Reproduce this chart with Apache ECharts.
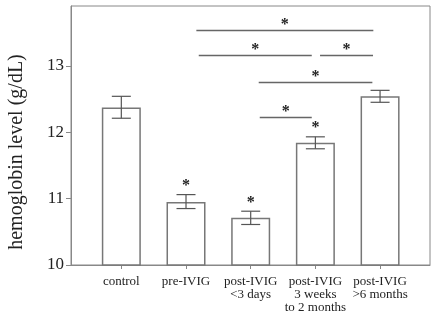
<!DOCTYPE html>
<html><head><meta charset="utf-8">
<script src="https://cdn.jsdelivr.net/npm/echarts@6/dist/echarts.min.js"></script>
<style>html,body{margin:0;padding:0;background:#fff}#c{width:436px;height:321px}</style>
</head><body><div id="c"></div>
<script>
// categories and values
const categories = ['control', 'pre-IVIG', 'post-IVIG\n<3 days', 'post-IVIG\n3 weeks\nto 2 months', 'post-IVIG\n>6 months'];
const means = [12.37, 10.95, 10.71, 11.84, 12.54];
const errLow = [12.21, 10.85, 10.61, 11.75, 12.45];
const errHigh = [12.54, 11.06, 10.81, 11.93, 12.63];
const starOnBar = [false, true, true, true, false];
const yTicks = [10, 11, 12, 13];
// significance brackets: [from (category units), to (category units), level (g/dL)]
const sigStart = [2.16, 2.197, 4.072, 3.124, 3.14];
const sigEnd = [4.896, 3.944, 4.891, 4.881, 3.944];
const sigLevel = [13.54, 13.16, 13.16, 12.76, 12.23];

const catPos = categories.map((_, i) => i + 1);
const FONT = '"Liberation Serif", "Times New Roman", serif';
const LINE = '#666';

const chart = echarts.init(document.getElementById('c'), null, {renderer: 'canvas'});
chart.setOption({
  animation: false,
  backgroundColor: '#fff',
  grid: {left: 71, right: 6, top: 6, bottom: 56, show: true, borderColor: '#888', borderWidth: 1, backgroundColor: 'transparent'},
  xAxis: {
    type: 'value', min: 0.222, max: 5.772,
    axisLine: {show: true, lineStyle: {color: '#888', width: 1}},
    axisTick: {show: true, customValues: catPos, length: 4, lineStyle: {color: '#888'}},
    axisLabel: {show: true, customValues: catPos, formatter: v => categories[Math.round(v) - 1] || '',
      color: '#222', fontFamily: FONT, fontSize: 13, lineHeight: 13, margin: 10},
    splitLine: {show: false}
  },
  yAxis: {
    type: 'value', min: 10, max: 13.9,
    axisLine: {show: true, lineStyle: {color: '#888', width: 1}},
    axisTick: {show: true, customValues: yTicks, length: 5, lineStyle: {color: '#888'}},
    axisLabel: {show: true, customValues: yTicks, color: '#222', fontFamily: FONT, fontSize: 17, margin: 7},
    splitLine: {show: false}
  },
  graphic: [{
    type: 'text', x: 17, y: 152, rotation: Math.PI / 2,
    style: {text: 'hemoglobin level (g/dL)', font: '20px ' + FONT, fill: '#222', align: 'center', verticalAlign: 'middle'}
  }],
  series: [
    {
      type: 'bar', barWidth: 39,
      data: means.map((m, i) => [catPos[i], m]),
      itemStyle: {color: '#fff', borderColor: '#777', borderWidth: 1.5},
      z: 2
    },
    {
      type: 'custom', z: 3,
      data: means.map((m, i) => [catPos[i], errLow[i], errHigh[i], starOnBar[i] ? 1 : 0]),
      renderItem: function (params, api) {
        const lo = api.coord([api.value(0), api.value(1)]);
        const hi = api.coord([api.value(0), api.value(2)]);
        const w = 9.5;
        const st = {stroke: '#555', lineWidth: 1.2};
        const children = [
          {type: 'line', shape: {x1: hi[0], y1: hi[1], x2: lo[0], y2: lo[1]}, style: st},
          {type: 'line', shape: {x1: hi[0] - w, y1: hi[1], x2: hi[0] + w, y2: hi[1]}, style: st},
          {type: 'line', shape: {x1: lo[0] - w, y1: lo[1], x2: lo[0] + w, y2: lo[1]}, style: st}
        ];
        if (api.value(3)) {
          children.push({type: 'text', style: {text: '*', x: hi[0], y: hi[1] - 8.5, align: 'center', verticalAlign: 'middle', font: 'bold 16px ' + FONT, fill: '#222'}});
        }
        return {type: 'group', children: children};
      }
    },
    {
      type: 'custom', z: 3,
      data: sigStart.map((s, i) => [s, sigEnd[i], sigLevel[i]]),
      renderItem: function (params, api) {
        const a = api.coord([api.value(0), api.value(2)]);
        const b = api.coord([api.value(1), api.value(2)]);
        const y = Math.round(a[1]) + 0.5;
        return {type: 'group', children: [
          {type: 'line', shape: {x1: a[0], y1: y, x2: b[0], y2: y}, style: {stroke: LINE, lineWidth: 1.3}},
          {type: 'text', style: {text: '*', x: (a[0] + b[0]) / 2, y: y - 5.5, align: 'center', verticalAlign: 'middle', font: 'bold 16px ' + FONT, fill: '#222'}}
        ]};
      }
    }
  ]
});
</script></body></html>
